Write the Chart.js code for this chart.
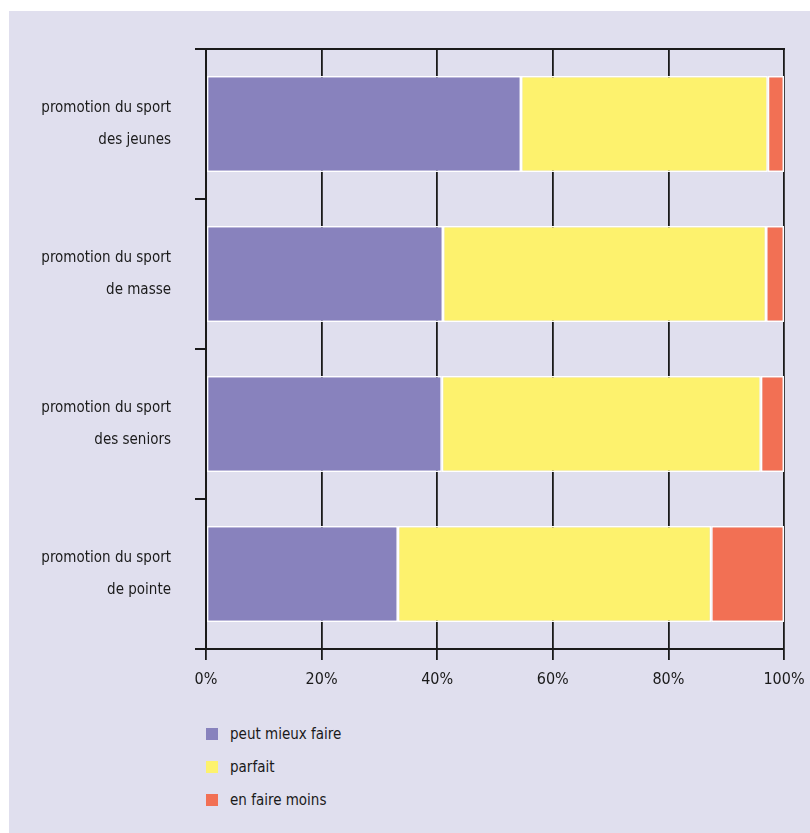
<!DOCTYPE html>
<html lang="fr">
<head>
<meta charset="utf-8">
<title>Promotion du sport</title>
<script src="https://cdn.jsdelivr.net/npm/chart.js@4"></script>
<style>
  html, body { margin: 0; padding: 0; background: #fff; }
  body { width: 810px; height: 833px; position: relative; overflow: hidden; }
  #panel {
    position: absolute; left: 9px; top: 11px; width: 801px; height: 822px;
    background: #e0dfee;
  }
  #chartBox { position: absolute; left: 0; top: 0; width: 801px; height: 690px; }
  #legend {
    position: absolute; left: 197px; top: 714px; margin: 0; padding: 0; list-style: none;
    font-family: 'DejaVu Sans Condensed', 'Liberation Sans Narrow', sans-serif;
    font-size: 15px; color: #1a1a1a;
  }
  #legend li { height: 33px; line-height: 18px; display: flex; align-items: flex-start; }
  #legend .box { width: 12px; height: 12px; margin: 3px 12px 0 0; }
</style>
</head>
<body>
<div id="panel">
  <div id="chartBox"><canvas id="myChart"></canvas></div>
  <ul id="legend"></ul>
</div>
<script>
// catégories (axe vertical), une ligne de texte par élément
const categories = [
  ['promotion du sport', 'des jeunes'],
  ['promotion du sport', 'de masse'],
  ['promotion du sport', 'des seniors'],
  ['promotion du sport', 'de pointe'],
];
const seriesNames = ['peut mieux faire', 'parfait', 'en faire moins'];
const peutMieux = [54.5, 41, 40.8, 33.2];
const parfait = [42.7, 55.9, 55.2, 54.2];
const enFaireMoins = [2.8, 3.1, 4, 12.6];
const tickValues = [0, 20, 40, 60, 80, 100];

const colors = ['#8882bd', '#fdf26d', '#f27054'];
const font = "'DejaVu Sans Condensed', 'Liberation Sans Narrow', sans-serif";
const ink = '#1a1a1a';

const data = {
  labels: categories,
  datasets: [peutMieux, parfait, enFaireMoins].map((values, i) => ({
    label: seriesNames[i],
    data: values,
    backgroundColor: colors[i],
    borderColor: '#ffffff',
    borderWidth: 1.5,
    borderSkipped: false,
    barPercentage: 0.64,
    categoryPercentage: 1,
  })),
};

const config = {
  type: 'bar',
  data: data,
  options: {
    indexAxis: 'y',
    responsive: true,
    maintainAspectRatio: false,
    animation: false,
    layout: { padding: { top: 38, right: 26, left: 0, bottom: 0 } },
    plugins: {
      legend: { display: false },
      tooltip: { enabled: false },
    },
    scales: {
      x: {
        stacked: true,
        min: 0,
        max: 100,
        afterBuildTicks: (scale) => {
          scale.ticks = tickValues.map((v) => ({ value: v }));
        },
        afterFit: (scale) => {
          scale.height = 52;
          scale.paddingLeft = 0;
          scale.paddingRight = 0;
        },
        grid: {
          color: ink,
          lineWidth: 1.8,
          tickLength: 11,
          drawOnChartArea: true,
        },
        border: { display: true, color: ink, width: 2 },
        ticks: {
          color: ink,
          padding: 10,
          maxRotation: 0,
          font: { family: font, size: 16 },
          callback: (v) => v + '%',
        },
      },
      xTop: {
        type: 'linear',
        position: 'top',
        min: 0,
        max: 100,
        afterFit: (scale) => {
          scale.height = 0;
          scale.paddingLeft = 0;
          scale.paddingRight = 0;
        },
        grid: { display: false },
        ticks: { display: false },
        border: { display: true, color: ink, width: 2 },
      },
      y: {
        stacked: true,
        afterFit: (scale) => {
          scale.width = 197;
          scale.paddingTop = 0;
          scale.paddingBottom = 0;
        },
        grid: {
          offset: true,
          color: ink,
          lineWidth: 2,
          tickLength: 11,
          drawOnChartArea: false,
        },
        border: { display: true, color: ink, width: 2 },
        ticks: {
          color: ink,
          padding: 24,
          font: { family: font, size: 15, lineHeight: 2.1 },
        },
      },
    },
  },
};

const myChart = new Chart(document.getElementById('myChart'), config);

// légende verticale sous le graphique
const legend = document.getElementById('legend');
legend.innerHTML = seriesNames
  .map((name, i) => `<li><span class="box" style="background:${colors[i]}"></span>${name}</li>`)
  .join('');
</script>
</body>
</html>
